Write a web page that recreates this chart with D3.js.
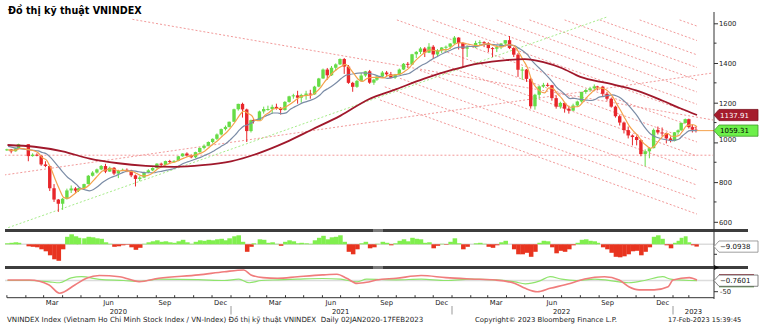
<!DOCTYPE html>
<html>
<head>
<meta charset="utf-8">
<script src="https://cdn.jsdelivr.net/npm/d3@7"></script>
<style>
  body { margin: 0; background: #fff; }
  svg { display: block; }
  text { font-family: "DejaVu Sans", Verdana, sans-serif; }
</style>
</head>
<body>
<svg id="chart" width="765" height="332"></svg>
<script>
// ---- weekly VNINDEX bars (week ending date) ----
const weeks = [
"2020-01-03","2020-01-10","2020-01-17","2020-01-22","2020-02-07","2020-02-14","2020-02-21","2020-02-28","2020-03-06","2020-03-13",
"2020-03-20","2020-03-27","2020-04-03","2020-04-10","2020-04-17","2020-04-24","2020-04-29","2020-05-08","2020-05-15","2020-05-22",
"2020-05-29","2020-06-05","2020-06-12","2020-06-19","2020-06-26","2020-07-03","2020-07-10","2020-07-17","2020-07-24","2020-07-31",
"2020-08-07","2020-08-14","2020-08-21","2020-08-28","2020-09-04","2020-09-11","2020-09-18","2020-09-25","2020-10-02","2020-10-09",
"2020-10-16","2020-10-23","2020-10-30","2020-11-06","2020-11-13","2020-11-20","2020-11-27","2020-12-04","2020-12-11","2020-12-18",
"2020-12-25","2020-12-31","2021-01-08","2021-01-15","2021-01-22","2021-01-29","2021-02-05","2021-02-09","2021-02-19","2021-02-26",
"2021-03-05","2021-03-12","2021-03-19","2021-03-26","2021-04-02","2021-04-09","2021-04-16","2021-04-23","2021-04-29","2021-05-07",
"2021-05-14","2021-05-21","2021-05-28","2021-06-04","2021-06-11","2021-06-18","2021-06-25","2021-07-02","2021-07-09","2021-07-16",
"2021-07-23","2021-07-30","2021-08-06","2021-08-13","2021-08-20","2021-08-27","2021-09-01","2021-09-10","2021-09-17","2021-09-24",
"2021-10-01","2021-10-08","2021-10-15","2021-10-22","2021-10-29","2021-11-05","2021-11-12","2021-11-19","2021-11-26","2021-12-03",
"2021-12-10","2021-12-17","2021-12-24","2021-12-31","2022-01-07","2022-01-14","2022-01-21","2022-01-28","2022-02-11","2022-02-18",
"2022-02-25","2022-03-04","2022-03-11","2022-03-18","2022-03-25","2022-04-01","2022-04-08","2022-04-15","2022-04-22","2022-04-29",
"2022-05-06","2022-05-13","2022-05-20","2022-05-27","2022-06-03","2022-06-10","2022-06-17","2022-06-24","2022-07-01","2022-07-08",
"2022-07-15","2022-07-22","2022-07-29","2022-08-05","2022-08-12","2022-08-19","2022-08-26","2022-08-31","2022-09-09","2022-09-16",
"2022-09-23","2022-09-30","2022-10-07","2022-10-14","2022-10-21","2022-10-28","2022-11-04","2022-11-11","2022-11-18","2022-11-25",
"2022-12-02","2022-12-09","2022-12-16","2022-12-23","2022-12-30","2023-01-06","2023-01-13","2023-01-19","2023-01-27","2023-02-03",
"2023-02-10","2023-02-17"];

const open = [
960,965,955,970,991,931,938,933,889,881, 769,712,691,716,758,768,757,769,790,832,
848,864,881,853,872,843,857,862,858,834, 816,823,849,859,871,893,887,906,903,907,
930,944,934,925,951,972,983,1002,1018,1040, 1067,1078,1104,1167,1194,1166,1057,1112,1111,1156,
1168,1168,1179,1172,1163,1204,1232,1237,1225,1239, 1246,1242,1281,1322,1367,1338,1376,1393,1420,1382,
1300,1280,1310,1337,1358,1301,1316,1332,1352,1343, 1326,1342,1367,1396,1392,1444,1456,1473,1452,1482,
1443,1463,1478,1482,1498,1528,1500,1472,1479,1501, 1505,1499,1475,1472,1480,1498,1515,1475,1442,1366,
1367,1320,1182,1240,1282,1290,1288,1223,1180,1199, 1170,1160,1186,1206,1254,1264,1272,1282,1281,1245,
1220,1180,1132,1100,1062,1035,1027,1012,941,955, 971,1063,1050,1047,1020,1007,1051,1061,1098,1117,
1077,1064];
const high = [
968,967,972,993,991,945,945,935,905,882, 790,715,720,767,783,775,771,792,836,855,
868,886,892,878,876,862,868,869,862,838, 830,853,865,874,895,898,908,912,910,932,
945,950,940,953,975,990,1005,1020,1045,1070, 1085,1105,1170,1195,1200,1170,1115,1118,1160,1180,
1185,1190,1195,1178,1208,1235,1245,1260,1245,1260, 1265,1285,1325,1372,1375,1385,1398,1423,1425,1390,
1305,1315,1350,1360,1365,1320,1340,1360,1360,1355, 1345,1372,1400,1405,1446,1460,1480,1480,1500,1490,
1470,1480,1488,1500,1536,1530,1505,1490,1512,1515, 1510,1505,1480,1490,1500,1515,1536,1480,1450,1380,
1370,1325,1245,1285,1300,1300,1290,1235,1205,1200, 1185,1195,1210,1255,1270,1280,1292,1285,1285,1255,
1225,1185,1140,1105,1080,1040,1035,1015,965,975, 1070,1080,1075,1050,1030,1052,1065,1100,1120,1120,
1090,1080];
const low = [
957,945,954,968,905,928,930,882,875,755, 700,650,660,712,745,744,750,760,788,828,
843,860,845,852,835,820,855,850,825,778, 805,820,845,855,868,880,885,895,898,905,
928,928,920,920,948,965,980,995,1012,1035, 1060,1075,1104,1160,1125,1002,1050,1095,1110,1145,
1160,1145,1165,1140,1160,1200,1220,1195,1200,1215, 1220,1240,1278,1320,1316,1335,1360,1390,1345,1295,
1255,1275,1305,1330,1295,1290,1310,1328,1330,1322, 1320,1340,1365,1375,1390,1425,1445,1430,1450,1420,
1430,1450,1455,1470,1495,1468,1375,1430,1475,1490, 1480,1455,1430,1455,1470,1485,1470,1430,1330,1315,
1305,1170,1165,1220,1275,1280,1210,1170,1170,1150, 1145,1158,1180,1200,1245,1255,1260,1262,1232,1210,
1175,1125,1085,1045,1020,985,985,930,880,920, 970,1040,1030,995,1000,1005,1040,1058,1095,1070,
1050,1050];
const close = [
965,955,970,991,931,938,933,889,881,769, 712,691,716,758,768,757,769,790,832,848,
864,881,853,872,843,857,862,858,834,816, 823,849,859,871,893,887,906,903,907,930,
944,934,925,951,972,983,1002,1018,1040,1067, 1078,1104,1167,1194,1166,1057,1112,1111,1156,1168,
1168,1179,1172,1163,1204,1232,1237,1225,1239,1246, 1242,1281,1322,1367,1338,1376,1393,1420,1382,1300,
1280,1310,1337,1358,1301,1316,1332,1352,1343,1326, 1342,1367,1396,1392,1444,1456,1473,1452,1482,1443,
1463,1478,1482,1498,1528,1500,1472,1479,1501,1505, 1499,1475,1472,1480,1498,1515,1475,1442,1366,1367,
1320,1182,1240,1282,1290,1288,1223,1180,1199,1170, 1160,1186,1206,1254,1264,1272,1282,1281,1245,1220,
1180,1132,1100,1062,1035,1027,1012,941,955,971, 1063,1050,1047,1020,1007,1051,1061,1098,1117,1077,
1064,1059.31];

// ---- moving averages, one value per week ----
const ma20 = [
962,960,962,970,962,958,948,923,910,868, 813,763,722,719,733,750,763,771,787,810,
834,856,862,868,862,856,859,855,853,843, 833,831,837,851,868,878,889,897,901,912,
921,929,933,939,946,958,977,994,1011,1032, 1051,1072,1104,1136,1158,1146,1132,1112,1109,1137,
1151,1168,1172,1171,1180,1193,1209,1225,1233,1237, 1238,1252,1273,1303,1327,1351,1369,1382,1393,1374,
1346,1318,1307,1321,1327,1328,1327,1325,1336,1338, 1341,1345,1358,1374,1400,1422,1441,1456,1466,1463,
1460,1467,1467,1480,1497,1502,1500,1495,1488,1489, 1496,1495,1488,1482,1481,1491,1492,1483,1450,1413,
1374,1309,1277,1256,1249,1275,1271,1245,1223,1193, 1177,1179,1181,1202,1228,1249,1268,1275,1270,1257,
1232,1194,1158,1119,1082,1056,1034,1004,984,970, 983,1010,1033,1045,1031,1031,1035,1054,1082,1088,
1089,1079];
const ma50 = [
980,975,971,969,963,960,957,949,942,922, 897,871,845,822,806,787,771,761,756,764,
779,798,812,823,831,841,850,857,857,854, 850,847,847,847,852,855,860,864,871,883,
895,903,910,918,926,936,945,957,970,984, 997,1014,1038,1063,1082,1089,1100,1110,1121,1131,
1140,1148,1148,1145,1149,1167,1179,1190,1199,1207, 1214,1224,1239,1260,1273,1287,1303,1322,1337,1342,
1346,1349,1350,1349,1346,1340,1334,1327,1323,1326, 1332,1337,1343,1347,1361,1375,1389,1399,1413,1425,
1437,1448,1457,1467,1476,1480,1480,1483,1484,1491, 1494,1494,1493,1491,1488,1490,1490,1486,1473,1459,
1441,1412,1389,1369,1348,1325,1300,1274,1257,1237, 1221,1222,1218,1216,1213,1211,1217,1227,1232,1237,
1239,1234,1223,1204,1181,1156,1129,1095,1066,1042, 1030,1022,1016,1012,1009,1012,1017,1032,1049,1059,
1059,1060];
const ma200Dates = ["2020-01-02","2020-02-15","2020-04-01","2020-05-15","2020-07-01","2020-08-15","2020-10-01","2020-11-15",
"2021-01-01","2021-02-15","2021-04-01","2021-05-15","2021-07-01","2021-08-15","2021-10-01","2021-11-15",
"2022-01-01","2022-02-15","2022-04-01","2022-05-01","2022-06-01","2022-07-01","2022-08-01","2022-09-15",
"2022-11-01","2022-12-15","2023-01-15","2023-02-17"];
const ma200 = [987,978,955,918,895,882,877,885, 905,945,1000,1065,1135,1215,1268,1320,
1365,1398,1415,1420,1405,1375,1330,1298, 1262,1210,1172,1137.91];

// ---- momentum histogram, one value per week ----
const histValues = [
4,6,8,6,-8,-10,-12,-20,-28,-44, -60,-66,-20,30,40,32,26,24,30,28,
24,22,8,2,-10,-8,-4,-2,-12,-22, -14,2,8,12,16,10,12,8,6,12,
18,8,2,10,16,14,18,16,20,22, 16,24,32,36,10,-30,-10,4,20,18,
6,8,2,-6,10,16,12,4,6,4, 2,16,26,34,20,28,30,36,10,-30,
-40,-20,4,10,-16,-12,2,10,6,-4, 4,14,20,12,26,22,20,6,8,-16,
-6,2,-2,10,24,4,-20,-10,4,6, 2,-10,-14,-4,8,14,0,-20,-40,-40,
-34,-50,-30,6,14,12,-12,-36,-26,-30, -20,-4,6,18,20,14,12,6,-12,-20,
-34,-50,-52,-48,-40,-28,-26,-44,-30,-12, 30,36,22,-4,-16,6,14,26,32,8,
-4,-9.0938];

// ---- oscillator pair ----
const oscRedDates = ["2020-01-02","2020-02-07","2020-03-10","2020-03-27","2020-04-21","2020-05-10","2020-05-31","2020-07-03",
"2020-08-04","2020-09-05","2020-11-09","2020-12-21","2021-01-22","2021-02-03","2021-02-23","2021-03-19","2021-04-21",
"2021-06-01","2021-06-25","2021-07-11","2021-07-28","2021-08-13","2021-08-29","2021-10-01","2021-11-11","2021-12-22",
"2022-02-01","2022-03-14","2022-04-15","2022-05-02","2022-05-22","2022-06-12","2022-07-15","2022-08-08","2022-09-10",
"2022-10-04","2022-10-20","2022-11-06","2022-12-01","2022-12-24","2023-01-01","2023-02-02","2023-02-17"];
const oscRed = [2,2,-20,-57,-20,10,22,17, -5,10,25,39,47,25,13,10,17, 25,28,10,-13,-8,2,10,22,13,
7,2,-13,-35,-50,-35,-13,7,17, 2,-28,-42,-42,-28,2,13,2];
const oscGreenDates = ["2020-01-02","2020-02-07","2020-03-10","2020-03-27","2020-04-15","2020-05-02","2020-05-31","2020-07-10",
"2020-08-04","2020-09-05","2020-11-09","2020-12-21","2021-01-14","2021-01-31","2021-02-20","2021-03-19","2021-04-21",
"2021-06-01","2021-07-01","2021-07-28","2021-08-13","2021-10-01","2021-11-11","2021-12-22","2022-02-01","2022-03-14",
"2022-04-15","2022-05-02","2022-05-25","2022-06-12","2022-07-01","2022-07-25","2022-08-25","2022-10-04","2022-10-20",
"2022-11-15","2022-12-15","2022-12-28","2023-02-02","2023-02-17"];
const oscGreen = [0,0,-6,-10,12,17,5,0, -4,6,4,0,6,-10,0,3,6, 9,6,-6,6,3,6,0,6,3,
-6,-15,-3,17,6,0,6,-6,-10, 0,17,6,0,-0.7601];

// ---- drawn trend lines: [start date, start value, end date, end value] ----
const channelLines = [
["2021-10-02",1617,"2023-02-17",1072],["2021-11-30",1617,"2023-02-17",1138],["2022-01-19",1617,"2023-02-17",1192],
["2022-03-16",1617,"2023-02-17",1254],["2022-05-09",1617,"2023-02-17",1314],["2022-07-06",1617,"2023-02-17",1377],
["2022-09-02",1617,"2023-02-17",1441],["2022-11-07",1617,"2023-02-17",1513],["2023-01-14",1617,"2023-02-17",1586],
["2021-12-12",1468,"2023-02-17",1002],["2021-11-25",1415,"2023-02-17",931],["2021-11-09",1363,"2023-02-17",861],
["2021-10-07",1323,"2023-02-17",785],["2021-09-12",1280,"2023-02-17",714],["2021-09-04",1214,"2023-02-17",639]];
const redTrendLines = [
["2020-07-24",1620,"2023-03-10",1113],
["2019-12-28",836,"2023-03-10",1350],
["2019-12-28",935.5,"2023-03-10",935.5]];
const greenTrendLines = [["2019-12-28",564,"2022-09-14",1632]];

// ---- axis labels ----
const priceTicks = [600,800,1000,1200,1400,1600];
const priceMinorTicks = [700,900,1100,1300,1500];
const quarterMonths = ["Mar","Jun","Sep","Dec"];
const yearLabels = ["2020","2021","2022","2023"];
const xAnchors = ["2020-01-02","2021-01-01","2022-01-01","2023-01-01","2023-02-17","2023-03-10"];
const lastPrice = 1059.31, lastMa200 = 1137.91;
const titleText = "Đồ thị kỹ thuật VNINDEX";
const footLeft = "VNINDEX Index (Vietnam Ho Chi Minh Stock Index / VN-Index) Đồ thị kỹ thuật VNINDEX  Daily 02JAN2020-17FEB2023";
const footMid = "Copyright© 2023 Bloomberg Finance L.P.";
const footRight = "17-Feb-2023 15:39:45";

// ================= drawing =================
const svg = d3.select("#chart");
const parse = d3.utcParse("%Y-%m-%d");
const wk = weeks.map(parse);
const axisX = 714;

const x = d3.scaleUtc().domain(xAnchors.map(parse)).range([7.5, 231, 452, 673, 697, 713]);
const y = d3.scaleLinear().domain([600, 1600]).range([221.8, 23.3]);
const yHist = d3.scaleLinear().domain([0, 40]).range([244.3, 234.3]);
const yOsc = d3.scaleLinear().domain([0, -50]).range([280.5, 291.7]);

const defs = svg.append("defs");
defs.append("clipPath").attr("id", "clipMain").append("rect").attr("x", 5).attr("y", 12).attr("width", axisX - 5).attr("height", 216);
defs.append("clipPath").attr("id", "clipHist").append("rect").attr("x", 5).attr("y", 232).attr("width", axisX - 5).attr("height", 34);
defs.append("clipPath").attr("id", "clipOsc").append("rect").attr("x", 5).attr("y", 269).attr("width", axisX - 5).attr("height", 28);

// title
svg.append("text").attr("x", 8).attr("y", 14).attr("font-size", 9.6).attr("font-weight", "bold").attr("fill", "#000").text(titleText);

// ---- main price panel ----
const main = svg.append("g").attr("clip-path", "url(#clipMain)");

function segLine(g, rows, color, dash) {
  g.selectAll(null).data(rows).join("line")
    .attr("x1", d => x(parse(d[0]))).attr("y1", d => y(d[1]))
    .attr("x2", d => x(parse(d[2]))).attr("y2", d => y(d[3]))
    .attr("stroke", color).attr("stroke-width", 1).attr("stroke-dasharray", dash);
}
segLine(main, channelLines, "#f29a9a", "2,2");
segLine(main, redTrendLines, "#f29a9a", "2,2");
segLine(main, greenTrendLines, "#a6ec8a", "2,2");

// weekly candles, centred mid-week
const bars = wk.map((d, i) => ({ d: d3.utcDay.offset(d, -2), o: open[i], h: high[i], l: low[i], c: close[i] }));
const up = "#66dc46", down = "#e8262b";
main.selectAll(".wick").data(bars).join("line")
  .attr("x1", b => x(b.d)).attr("x2", b => x(b.d))
  .attr("y1", b => y(b.h)).attr("y2", b => y(b.l))
  .attr("stroke", b => b.c >= b.o ? up : down).attr("stroke-width", 1);
main.selectAll(".body").data(bars).join("rect")
  .attr("x", b => x(b.d) - 1.7).attr("width", 3.4)
  .attr("y", b => y(Math.max(b.o, b.c)))
  .attr("height", b => Math.max(1, Math.abs(y(b.o) - y(b.c))))
  .attr("fill", b => b.c >= b.o ? up : down);

// moving averages
const lineGen = d3.line().x(p => x(p[0])).y(p => y(p[1])).curve(d3.curveMonotoneX);
main.append("path").attr("d", lineGen(wk.map((d, i) => [d, ma50[i]])))
  .attr("fill", "none").attr("stroke", "#7b8ca6").attr("stroke-width", 1.2);
main.append("path").attr("d", lineGen(wk.map((d, i) => [d, ma20[i]])))
  .attr("fill", "none").attr("stroke", "#f4a24c").attr("stroke-width", 1.2);
main.append("path").attr("d", lineGen(ma200Dates.map((d, i) => [parse(d), ma200[i]])))
  .attr("fill", "none").attr("stroke", "#a0182b").attr("stroke-width", 1.8);
// last price guide
main.append("line").attr("x1", x(wk[wk.length - 1])).attr("x2", axisX)
  .attr("y1", y(lastPrice)).attr("y2", y(lastPrice)).attr("stroke", "#f4a24c").attr("stroke-width", 1);

// ---- histogram panel ----
const hist = svg.append("g").attr("clip-path", "url(#clipHist)");
hist.append("line").attr("x1", 5).attr("x2", axisX).attr("y1", yHist(0)).attr("y2", yHist(0))
  .attr("stroke", "#dcdcdc").attr("stroke-width", 1.5);
hist.selectAll("rect").data(wk.map((d, i) => ({ d, v: histValues[i] }))).join("rect")
  .attr("x", p => x(d3.utcDay.offset(p.d, -5)))
  .attr("width", p => x(d3.utcDay.offset(p.d, 2)) - x(d3.utcDay.offset(p.d, -5)) + 0.3)
  .attr("y", p => Math.min(yHist(0), yHist(p.v)))
  .attr("height", p => Math.abs(yHist(p.v) - yHist(0)))
  .attr("fill", p => p.v >= 0 ? "#80ef4e" : "#e8341f");

// ---- oscillator panel ----
const osc = svg.append("g").attr("clip-path", "url(#clipOsc)");
osc.append("line").attr("x1", 5).attr("x2", axisX).attr("y1", yOsc(0)).attr("y2", yOsc(0))
  .attr("stroke", "#dcdcdc").attr("stroke-width", 1.5);
const oscLine = d3.line().x(p => x(p[0])).y(p => yOsc(p[1])).curve(d3.curveMonotoneX);
osc.append("path").attr("d", oscLine(oscGreenDates.map((d, i) => [parse(d), oscGreen[i]])))
  .attr("fill", "none").attr("stroke", "#8fe46c").attr("stroke-width", 1.2);
osc.append("path").attr("d", oscLine(oscRedDates.map((d, i) => [parse(d), oscRed[i]])))
  .attr("fill", "none").attr("stroke", "#f07c7c").attr("stroke-width", 1.6);

// ---- panel separators ----
[229, 266].forEach(t => {
  svg.append("rect").attr("x", 5).attr("y", t).attr("width", 743).attr("height", 3).attr("fill", "#3d3d3d");
  svg.append("rect").attr("x", 373).attr("y", t).attr("width", 10).attr("height", 3).attr("fill", "#7a7a7a");
});

// ---- right axis ----
svg.append("line").attr("x1", axisX).attr("x2", axisX).attr("y1", 12).attr("y2", 299)
  .attr("stroke", "#333").attr("stroke-width", 1);
const yAxis = d3.axisRight(y).tickValues(priceTicks).tickSize(4).tickPadding(1).tickFormat(d3.format("d"));
const gy = svg.append("g").attr("transform", `translate(${axisX},0)`).call(yAxis);
gy.select(".domain").remove();
gy.selectAll(".tick line").attr("stroke", "#333");
gy.selectAll(".tick text").attr("font-size", 6.8).attr("fill", "#222").attr("font-family", "DejaVu Sans, Verdana, sans-serif")
  .attr("dy", d => d === 1000 ? "-0.1em" : "0.35em");
svg.selectAll(".minor").data(priceMinorTicks).join("line")
  .attr("x1", axisX).attr("x2", axisX + 2.5).attr("y1", d => y(d)).attr("y2", d => y(d)).attr("stroke", "#333");

// value tags on the right axis
function tag(yc, label, fill, textFill, stroke) {
  const h = 5.6, w = 44;
  svg.append("path")
    .attr("d", `M${axisX},${yc} L${axisX + 5},${yc - h} L${axisX + w},${yc - h} L${axisX + w},${yc + h} L${axisX + 5},${yc + h} Z`)
    .attr("fill", fill).attr("stroke", stroke).attr("stroke-width", 0.8);
  svg.append("text").attr("x", axisX + 6).attr("y", yc).attr("dy", "0.36em")
    .attr("font-size", 7).attr("fill", textFill).text(label);
}
tag(y(lastMa200), d3.format(".2f")(lastMa200), "#a51c2c", "#fff", "#7a0f1c");
tag(y(lastPrice), d3.format(".2f")(lastPrice), "#6df04a", "#000", "#3f9a2a");
tag(yHist(histValues[histValues.length - 1]), d3.format(".4f")(histValues[histValues.length - 1]), "#fff", "#111", "#888");
// stacked oscillator tags: red and green edges peeking behind the front label
const yo = yOsc(oscGreen[oscGreen.length - 1]);
svg.append("rect").attr("x", axisX + 5).attr("y", yo - 6.4).attr("width", 35).attr("height", 1.6).attr("fill", "#8c1322");
svg.append("rect").attr("x", axisX + 5).attr("y", yo + 4.8).attr("width", 35).attr("height", 1.8).attr("fill", "#3c7d28");
tag(yo, d3.format(".4f")(oscGreen[oscGreen.length - 1]), "#fff", "#111", "#666");
svg.append("line").attr("x1", axisX).attr("x2", axisX + 3).attr("y1", yHist(-40)).attr("y2", yHist(-40)).attr("stroke", "#333");
svg.append("line").attr("x1", axisX).attr("x2", axisX + 4).attr("y1", yOsc(-50)).attr("y2", yOsc(-50)).attr("stroke", "#333");
svg.append("text").attr("x", axisX + 6).attr("y", yOsc(-50)).attr("dy", "0.35em").attr("font-size", 6.8).attr("fill", "#222").text("-50");
svg.append("path").attr("d", `M${axisX},265 L${axisX + 5},267.5 L${axisX},270 Z`).attr("fill", "#111");

// ---- time axis ----
const axisY = 297.7;
svg.append("line").attr("x1", 7).attr("x2", axisX).attr("y1", axisY).attr("y2", axisY).attr("stroke", "#333");
const months = d3.utcMonth.range(parse("2020-01-01"), parse("2023-03-01"));
svg.selectAll(".mt").data(months).join("line")
  .attr("x1", d => x(d)).attr("x2", d => x(d)).attr("y1", axisY).attr("y2", axisY - 2.5).attr("stroke", "#333");
const monthFmt = d3.utcFormat("%b");
svg.selectAll(".ml").data(months.filter(d => quarterMonths.includes(monthFmt(d)))).join("text")
  .attr("x", d => x(d3.utcDay.offset(d, 14))).attr("y", 305)
  .attr("text-anchor", "middle").attr("font-size", 6.8).attr("fill", "#222").text(d => monthFmt(d));
const yearStarts = yearLabels.map(yv => parse(yv + "-01-01"));
svg.selectAll(".yl").data(yearLabels).join("text")
  .attr("x", (yv, i) => i < 3 ? x(parse(yv + "-07-01")) : (x(yearStarts[i]) + axisX) / 2)
  .attr("y", 313.5).attr("text-anchor", "middle").attr("font-size", 6.8).attr("fill", "#222").text(d => d);
svg.selectAll(".ys").data(yearStarts.slice(1)).join("line")
  .attr("x1", d => x(d)).attr("x2", d => x(d)).attr("y1", 306).attr("y2", 314.5).attr("stroke", "#999");

// footer
svg.append("text").attr("x", 7).attr("y", 322).attr("font-size", 7.1).attr("fill", "#222")
  .style("white-space", "pre").text(footLeft);
svg.append("text").attr("x", 475).attr("y", 322).attr("font-size", 6.9).attr("fill", "#222").text(footMid);
svg.append("text").attr("x", 668).attr("y", 322).attr("font-size", 6.6).attr("fill", "#222").text(footRight);
</script>
</body>
</html>
